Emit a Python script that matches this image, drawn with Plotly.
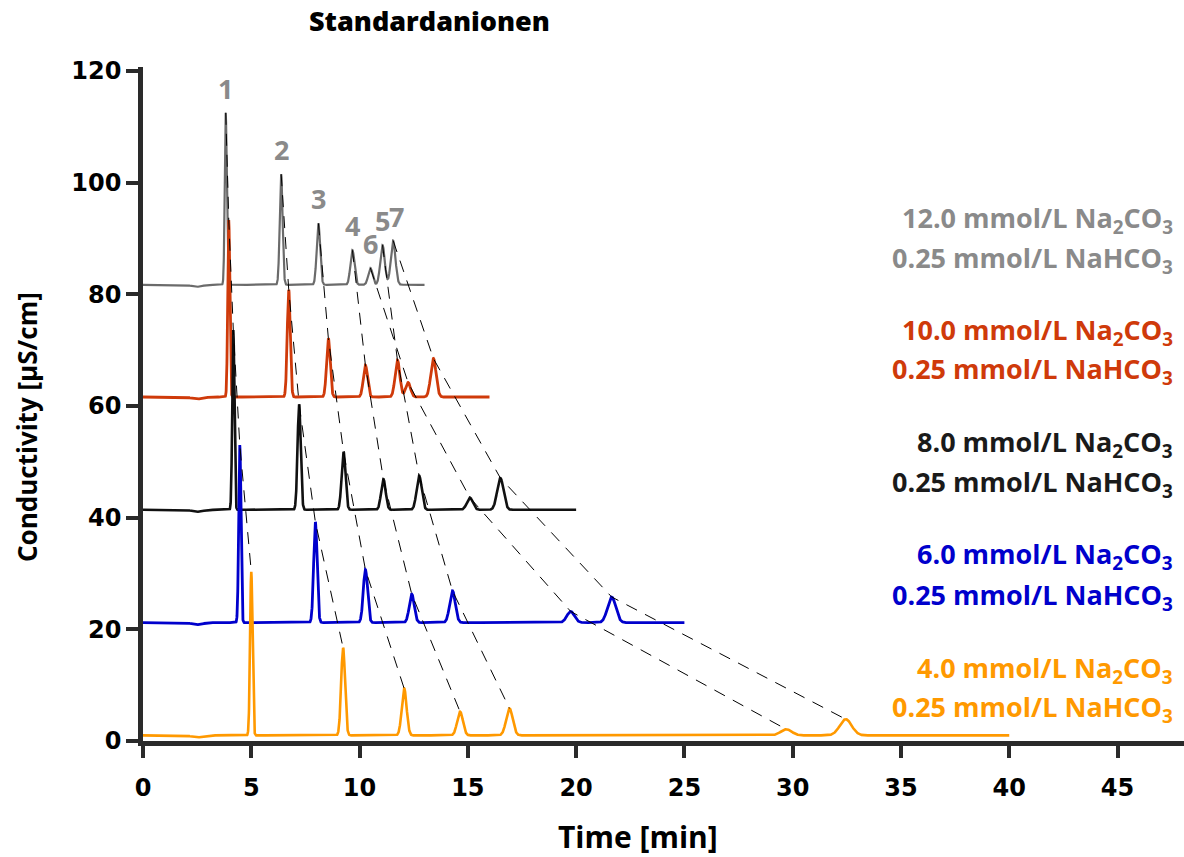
import numpy as np
import plotly.graph_objects as go

# ---------------- data ----------------
eluents = ["12.0", "10.0", "8.0", "6.0", "4.0"]
bicarb = "0.25"
baselines = [81.7, 61.6, 41.4, 21.2, 1.0]
run_end = [13.0, 16.0, 20.0, 25.0, 40.0]

# peak numbers 1..7 ; retention times [min] per eluent
rt_12 = [3.82, 6.38, 8.10, 9.67, 11.06, 10.50, 11.55]
rt_10 = [3.96, 6.73, 8.56, 10.27, 11.75, 12.24, 13.41]
rt_8 = [4.17, 7.21, 9.26, 11.10, 12.75, 15.09, 16.50]
rt_6 = [4.47, 7.96, 10.27, 12.41, 14.29, 19.75, 21.64]
rt_4 = [5.00, 9.24, 12.06, 14.64, 16.92, 29.70, 32.45]

# apex values [µS/cm] per eluent (peak numbers 1..7)
apex_12 = [112.5, 101.5, 92.7, 87.9, 88.8, 84.7, 89.6]
apex_10 = [93.3, 80.8, 72.1, 67.3, 68.2, 64.2, 68.5]
apex_8 = [73.6, 60.3, 51.8, 46.9, 47.5, 43.6, 47.1]
apex_6 = [53.0, 39.2, 30.7, 26.3, 26.9, 23.2, 25.8]
apex_4 = [30.3, 16.7, 9.4, 5.25, 5.85, 2.1, 3.9]

peak_labels = ["1", "2", "3", "4", "5", "6", "7"]
x_ticks = [0, 5, 10, 15, 20, 25, 30, 35, 40, 45]
y_ticks = [0, 20, 40, 60, 80, 100, 120]

rts = [rt_12, rt_10, rt_8, rt_6, rt_4]
apexes = [apex_12, apex_10, apex_8, apex_6, apex_4]

# ---------------- style ----------------
line_colors = ["#6b6b6b", "#cf3a0a", "#111111", "#0000cc", "#ff9900"]
text_colors = ["#8a8a8a", "#cf3a0a", "#1a1a1a", "#0000cc", "#ff9900"]
line_widths = [2.2, 2.8, 2.6, 2.8, 2.6]
FONT = "Open Sans"
TICKFONT = "DejaVu Sans"
AX = "#2a2a2a"

fig = go.Figure()

for k in range(5):
    t = np.arange(0, run_end[k] + 1e-9, 0.005)
    y = np.full_like(t, baselines[k])
    y -= 0.35 * np.exp(-0.5 * ((t - 2.5) / 0.25) ** 2)
    for tr, ap in zip(rts[k], apexes[k]):
        sig = 0.008 * tr + 0.015
        y += (ap - baselines[k]) * np.exp(-0.5 * ((t - tr) / sig) ** 2)
    fig.add_trace(go.Scatter(x=t, y=y, mode="lines",
                             line=dict(color=line_colors[k], width=line_widths[k]),
                             hoverinfo="skip", showlegend=False))

# dashed connectors through the apexes of the same peak
for p in range(7):
    xs = [rts[k][p] for k in range(5)]
    ys = [apexes[k][p] for k in range(5)]
    fig.add_trace(go.Scatter(x=xs, y=ys, mode="lines",
                             line=dict(color="#000000", width=1, dash="12px,9px"),
                             hoverinfo="skip", showlegend=False))

annotations = []
# peak numbers above the 12 mM trace
for p in range(7):
    annotations.append(dict(x=rts[0][p], y=apexes[0][p], xref="x", yref="y",
                            text=peak_labels[p], showarrow=False,
                            yanchor="bottom", xanchor="center", yshift=4,
                            xshift=3 if p == 6 else 0,
                            font=dict(family=FONT, size=27, color="#8a8a8a", weight=700)))

# eluent labels on the right
label_y = [(94.0, 86.8), (73.9, 66.8), (53.9, 46.7), (33.7, 26.5), (13.4, 6.3)]
for k in range(5):
    l1 = f"{eluents[k]} mmol/L Na<sub>2</sub>CO<sub>3</sub>"
    l2 = f"{bicarb} mmol/L NaHCO<sub>3</sub>"
    for txt, yy in zip((l1, l2), label_y[k]):
        annotations.append(dict(x=0.9914, y=yy, xref="paper", yref="y", text=txt,
                                showarrow=False, xanchor="right", yanchor="middle",
                                yshift=-3,
                                font=dict(family=FONT, size=27, color=text_colors[k], weight=700)))

# title and axis titles
annotations.append(dict(x=429, y=20, xref="paper", yref="paper", text="Standardanionen",
                        showarrow=False, xanchor="center", yanchor="middle",
                        font=dict(family=FONT, size=27, color="#000000", weight=800)))
annotations.append(dict(x=638, y=836, xref="paper", yref="paper", text="Time [min]",
                        showarrow=False, xanchor="center", yanchor="middle",
                        font=dict(family=FONT, size=30, color="#000000", weight=700)))
annotations.append(dict(x=27, y=427, xref="paper", yref="paper", text="Conductivity [µS/cm]",
                        showarrow=False, xanchor="center", yanchor="middle", textangle=-90,
                        font=dict(family=FONT, size=26, color="#000000", weight=700)))

# convert pixel-placed annotations to paper coords
L, R, T, B = 143, 0, 67, 116
W, H = 1184, 857
pw, ph = W - L - R, H - T - B
for a in annotations[-3:]:
    a["x"] = (a["x"] - L) / pw
    a["y"] = (H - B - a["y"]) / ph

fig.update_layout(
    width=W, height=H,
    margin=dict(l=L, r=R, t=T, b=B, pad=0),
    plot_bgcolor="white", paper_bgcolor="white",
    annotations=annotations,
    xaxis=dict(range=[0, 48.07], tickvals=x_ticks, showgrid=False, zeroline=False,
               showline=True, linecolor=AX, linewidth=4.5,
               ticks="outside", ticklen=12, tickwidth=4, tickcolor=AX,
               ticklabelstandoff=9,
               tickfont=dict(family=TICKFONT, size=24, color="#000000", weight=700)),
    yaxis=dict(range=[0, 120.7], tickvals=y_ticks, showgrid=False, zeroline=False,
               showline=True, linecolor=AX, linewidth=4.5,
               ticks="outside", ticklen=12, tickwidth=4, tickcolor=AX,
               ticklabelstandoff=0,
               tickfont=dict(family=TICKFONT, size=24, color="#000000", weight=700)),
)

fig.write_html("out.html")
